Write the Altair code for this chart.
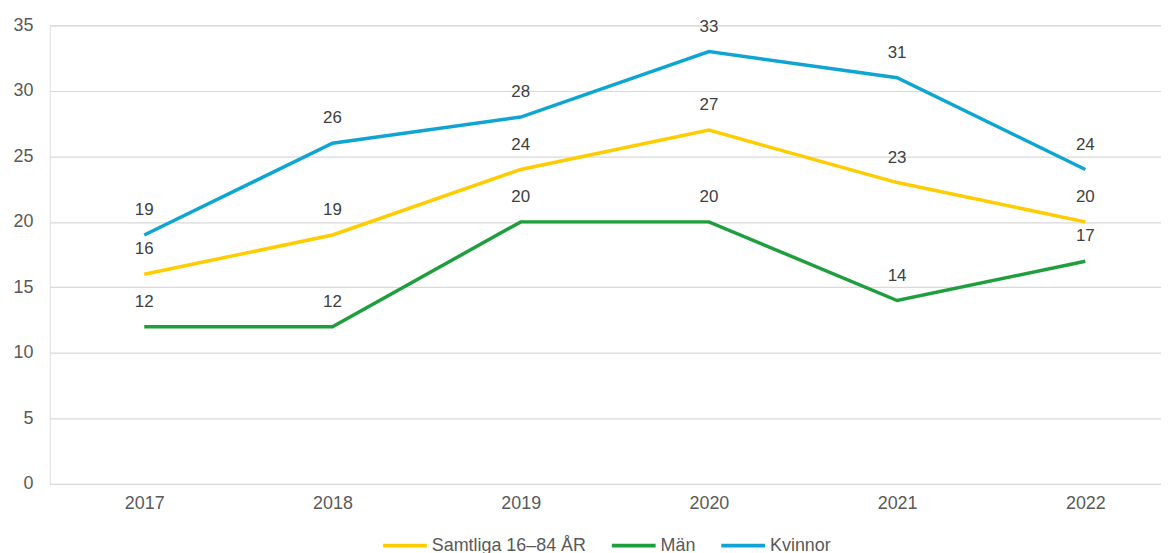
import altair as alt
import pandas as pd

years = [2017, 2018, 2019, 2020, 2021, 2022]
series_names = ["Samtliga 16–84 ÅR", "Män", "Kvinnor"]
samtliga = [16, 19, 24, 27, 23, 20]
man = [12, 12, 20, 20, 14, 17]
kvinnor = [19, 26, 28, 33, 31, 24]
colors = ["#FFCC00", "#1E9E3C", "#0EA5D3"]

rows = []
for name, vals in zip(series_names, [samtliga, man, kvinnor]):
    for y, v in zip(years, vals):
        rows.append({"År": y, "Serie": name, "Värde": v})
df = pd.DataFrame(rows)

FONT = "Liberation Sans"

x = alt.X("År:Q", title=None,
          scale=alt.Scale(domain=[2016.498, 2022.402], nice=False, zero=False),
          axis=alt.Axis(values=years, format="d", labelAngle=0, ticks=False, domain=False,
                        grid=False, labelFontSize=18, labelColor="#595959", labelFont=FONT,
                        labelPadding=11, labelFlush=False))
y = alt.Y("Värde:Q", title=None,
          scale=alt.Scale(domain=[0, 35]),
          axis=alt.Axis(values=[0, 5, 10, 15, 20, 25, 30, 35], ticks=False, domain=False,
                        gridColor="#d9d9d9", gridWidth=1.2,
                        labelFontSize=18, labelColor="#595959", labelFont=FONT,
                        labelPadding=17))
color = alt.Color("Serie:N",
                  scale=alt.Scale(domain=series_names, range=colors),
                  legend=alt.Legend(title=None, orient="none", direction="horizontal",
                                    legendX=333, legendY=499,
                                    symbolType="stroke", symbolSize=1936,
                                    symbolStrokeWidth=4, labelFontSize=18,
                                    labelFont=FONT, labelColor="#595959",
                                    columnPadding=17, labelOffset=3))

lines = alt.Chart(df).mark_line(strokeWidth=3.5).encode(
    x=x, y=y, color=color, detail="Serie:N",
    order=alt.Order("År:Q"))

labels = alt.Chart(df).mark_text(dy=-25, fontSize=17, font=FONT, color="#404040",
                                 baseline="middle").encode(
    x=x, y=y, text="Värde:Q")

chart = (lines + labels).properties(
    width=1117, height=461,
    padding={"left": 42, "top": 16, "right": 0, "bottom": 68},
    autosize=alt.AutoSizeParams(type="none"),
).configure_view(stroke=None).configure(background="white")

chart.save("out.html", embed_options={"renderer": "svg", "actions": False})
